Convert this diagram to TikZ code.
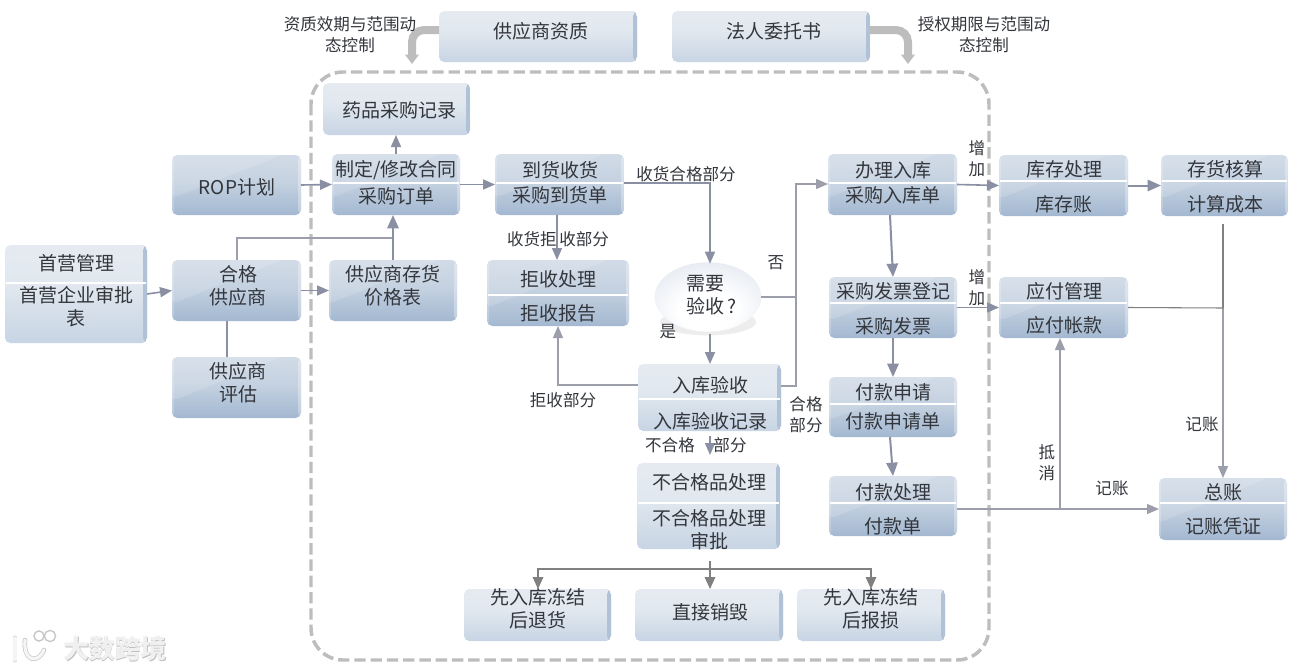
\documentclass[tikz,border=0pt]{standalone}
\usepackage{fontspec}
\setmainfont{Noto Sans CJK SC}
\usetikzlibrary{arrows.meta,shapes.geometric,calc}
\definecolor{arrowc}{HTML}{8A8FA3}
\definecolor{linec}{HTML}{9C9FAB}
\definecolor{grayc}{HTML}{808080}
\definecolor{dashc}{HTML}{BDBDBD}
\definecolor{txtc}{HTML}{33363C}
\definecolor{barc}{HTML}{B1C2D7}
\definecolor{boxedge}{HTML}{BBCADC}
\definecolor{boxbot}{HTML}{A3B8D1}
\definecolor{boxmid}{HTML}{B4C5D9}
\definecolor{boxmid2}{HTML}{C4D1E0}
\definecolor{boxtop}{HTML}{DDE4ED}
\definecolor{softtop}{HTML}{E9EDF3}
\definecolor{softmid}{HTML}{E1E8EF}
\definecolor{softlow}{HTML}{C3D1E2}
\definecolor{softbot}{HTML}{DDE5EE}
\definecolor{softband}{HTML}{C3CFDF}
\pgfdeclareverticalshading{boxshade}{100bp}{
 color(0bp)=(boxedge);
 color(6bp)=(boxbot);
 color(25bp)=(boxbot);
 color(52bp)=(boxmid2);
 color(94bp)=(boxtop);
 color(100bp)=(boxmid)}
\pgfdeclareverticalshading{softshade}{100bp}{
 color(0bp)=(softbot);
 color(5bp)=(softbot);
 color(20bp)=(softlow);
 color(55bp)=(softmid);
 color(93bp)=(softtop);
 color(97bp)=(softband);
 color(100bp)=(softband)}
\pgfdeclareradialshading{ballshade}{\pgfpoint{0bp}{-14bp}}{
 color(0bp)=(white);
 color(14bp)=(white);
 color(30bp)=(softtop);
 color(46bp)=(boxbot);
 color(50bp)=(boxbot)}
\tikzset{
 px/.style={x=.75pt,y=-.75pt},
 boxst/.style={rectangle,rounded corners=4pt,shading=boxshade,draw=none,inner sep=0pt,outer sep=0pt,
  path picture={
   \fill[white,opacity=.14] ($(path picture bounding box.north west)!.72!(path picture bounding box.south west)$) -- ($(path picture bounding box.north west)!.85!(path picture bounding box.north east)$) -- (path picture bounding box.north west) -- cycle;
   \fill[white,opacity=.3] ([xshift=-2.2pt]path picture bounding box.north east) rectangle (path picture bounding box.south east);
   \fill[white,opacity=.2] ([xshift=1.6pt]path picture bounding box.north west) rectangle (path picture bounding box.south west);}},
 softbox/.style={rectangle,rounded corners=4pt,shading=softshade,draw=none,inner sep=0pt,outer sep=0pt,
  path picture={
   \fill[barc] ([xshift=-3pt]path picture bounding box.north east) rectangle (path picture bounding box.south east);}},
 txt/.style={font=\fontsize{14.25}{17.25}\selectfont,text=txtc,align=center,inner sep=0pt,outer sep=0pt},
 lab/.style={font=\fontsize{12.4}{15.5}\selectfont,text=txtc,align=center,inner sep=0pt,outer sep=0pt},
 divline/.style={draw=white,line width=1.1pt},
 arr/.style={draw=arrowc,line width=1.5pt,-{Triangle[length=10pt,width=8.5pt]}},
 arrl/.style={draw=arrowc,line width=1.2pt,-{Triangle[length=9pt,width=7.5pt]}},
 grayarr/.style={draw=grayc,line width=.8pt,-{Triangle[length=9pt,width=8pt]}},
 thin line/.style={draw=linec,line width=1pt},
 thinarr/.style={draw=linec,line width=1pt,-{Triangle[length=9pt,width=7.5pt]}},
 thick line/.style={draw=arrowc,line width=1.5pt},
 bigarr/.style={draw=dashc,line width=6pt,rounded corners=9pt,-{Triangle[length=7pt,width=10pt]}},
 wm/.style={font=\fontsize{19.5}{22}\selectfont\bfseries,inner sep=0pt}
}
% [style] name x1 y1 x2 y2 text textx texty
\newcommand\bxa[9][boxst]{%
 \pgfmathsetmacro\bw{(#5-#3)*.75}\pgfmathsetmacro\bh{(#6-#4)*.75}%
 \node[#1,minimum width=\bw pt,minimum height=\bh pt] (#2) at ({(#3+#5)/2},{(#4+#6)/2}) {};%
 \node[txt] (#2-t) at (#8,#9) {#7};}
% [style] name x1 y1 x2 y2 then divy top topy bottom bottomy
\newcommand\bxb[6][boxst]{%
 \pgfmathsetmacro\bw{(#5-#3)*.75}\pgfmathsetmacro\bh{(#6-#4)*.75}%
 \node[#1,minimum width=\bw pt,minimum height=\bh pt] (#2) at ({(#3+#5)/2},{(#4+#6)/2}) {};%
 \xdef\curname{#2}\xdef\curx{\the\numexpr(#3+#5)/2\relax}\xdef\curl{#3}\xdef\curr{#5}\bxbrest}
\newcommand\bxbrest[5]{%
 \draw[divline] (\curl+1,#1) -- (\curr-1,#1);%
 \node[txt] (\curname-t) at (\curx,#3) {#2};%
 \node[txt] (\curname-b) at (\curx,#5) {#4};}
\begin{document}
\begin{tikzpicture}[px]
\fill[white] (0,0) rectangle (1297,671);
\useasboundingbox (0,0) rectangle (1297,671);

% dashed frame
\draw[dashc,line width=2.6pt,dash pattern=on 8.5pt off 3.7pt,rounded corners=24pt] (311,72) rectangle (989,660);

% boxes
\bxa[softbox]{zz}{439}{11}{637}{62}{供应商资质}{541}{31}
\bxa[softbox]{fr}{672}{11}{870}{62}{法人委托书}{774}{31}
\bxa[softbox]{yp}{323}{83}{470}{135}{药品采购记录}{399}{110}
\bxa{rop}{172}{155}{301}{215}{ROP计划}{237}{187}
\bxb[softbox]{sy}{5}{245}{147}{343}{283}{首营管理}{263}{首营企业审批\\表}{307}
\bxa{hg}{172}{260}{301}{321}{合格\\供应商}{238}{286}
\bxa{pg}{172}{357}{301}{418}{供应商\\评估}{238}{383}
\bxa{jg}{329}{260}{457}{321}{供应商存货\\价格表}{393}{286}
\bxb{ht}{332}{154}{460}{215}{183}{制定/修改合同}{170}{采购订单}{196}
\bxb{dh}{495}{154}{624}{215}{183}{到货收货}{170}{采购到货单}{195}
\bxb{js}{487}{260}{629}{326}{295}{拒收处理}{279}{拒收报告}{313}
\fill[gray!14] (708,322) ellipse (36pt and 10pt);
\node[ellipse,shading=ballshade,minimum width=80pt,minimum height=52pt,inner sep=0pt,outer sep=0pt,draw=none] (xy) at (708,297) {};
\node[txt,anchor=west,align=left] (xy-t) at (686,295) {需要\\验收\,?};
\bxb[softbox]{rk}{638}{364}{781}{431}{399}{入库验收}{385}{入库验收记录}{421}
\bxb[softbox]{bh}{637}{463}{780}{549}{503}{不合格品处理}{482}{不合格品处理\\审批}{530}
\bxa[softbox]{th}{464}{589}{611}{641}{先入库冻结\\后退货}{538}{609}
\bxa[softbox]{xh}{635}{589}{783}{641}{直接销毁}{710}{612}
\bxa[softbox]{bs}{797}{589}{945}{641}{先入库冻结\\后报损}{871}{609}
\bxb{bl}{828}{154}{957}{215}{183}{办理入库}{170}{采购入库单}{195}
\bxb{fp}{829}{277}{957}{338}{303}{采购发票登记}{291}{采购发票}{326}
\bxb{sq}{829}{377}{957}{437}{404}{付款申请}{392}{付款申请单}{421}
\bxb{fk}{829}{476}{957}{536}{503}{付款处理}{492}{付款单}{526}
\bxb{kc}{999}{155}{1128}{216}{181}{库存处理}{169}{库存账}{204}
\bxb{ch}{1161}{155}{1288}{216}{181}{存货核算}{169}{计算成本}{204}
\bxb{yf}{999}{277}{1128}{338}{303}{应付管理}{291}{应付帐款}{325}
\bxb{zb}{1159}{478}{1287}{540}{503}{总账}{492}{记账凭证}{526}

% helper coordinates
\coordinate (x237) at (237,0);
\coordinate (x227) at (227,0);
\coordinate (x393) at (393,0);
\coordinate (x396) at (396,0);
\coordinate (x557) at (557,0);
\coordinate (x710) at (710,0);
\coordinate (x890) at (890,0);
\coordinate (x893) at (893,0);
\coordinate (x538) at (538,0);
\coordinate (x871) at (871,0);
\coordinate (x1060) at (1060,0);
\coordinate (x1223) at (1223,0);
\coordinate (j238) at (393,238);
\coordinate (j184) at (796,184);
\coordinate (j297) at (796,297);
\coordinate (j386) at (796,386);
\coordinate (j183) at (710,183);
\coordinate (j385) at (558,385);
\coordinate (j569) at (710,569);
\coordinate (j508) at (1060,509);
\coordinate (j308) at (1223,308);
\coordinate (zj) at (412,30);
\coordinate (zend) at (412,64);
\coordinate (fj) at (908,30);
\coordinate (fend) at (908,64);

% thick curved arrows
\draw[bigarr] (zz.west |- zj) -- (zj) -- (zend);
\draw[bigarr] (fr.east |- fj) -- (fj) -- (fend);

% left connectors
\draw[arrl] (sy.east) -- (hg.west);
\draw[arrl] (rop.east) -- (ht.west);
\draw[arrl] (hg.east) -- (jg.west);
\draw[thick line] (pg.north -| x227) -- (hg.south -| x227);
\draw[thin line] (hg.north -| x237) |- (j238);
\draw[arr] (jg.north -| x393) -- (ht.south -| x393);
\draw[arrl] (ht.north -| x396) -- (yp.south -| x396);
\draw[arrl] (ht.east) -- (dh.west);

% middle connectors
\draw[arrl] (dh.south -| x557) -- (js.north -| x557);
\draw[thinarr,draw=arrowc] (dh.east |- j183) -- (j183) -- ([yshift=-1pt]xy.north -| x710);
\draw[arrl,shorten <=2pt] (xy.south -| x710) -- (rk.north -| x710);
\draw[thin line] (xy.east) -- (j297);
\draw[thinarr] (rk.east |- j386) -- (j386) -- (j184) -- (bl.west |- j184);
\draw[thinarr] (rk.west |- j385) -- (j385) -- (js.south -| j385);
\draw[arrl,shorten <=4pt,shorten >=6pt] (rk.south -| x710) -- (bh.north -| x710);
\draw[grayc,line width=1pt,shorten <=9pt] (bh.south -| x710) -- (j569);
\draw[grayarr] (j569) -| (th.north -| x538);
\draw[grayarr] (j569) -| (bs.north -| x871);
\draw[grayarr] (j569) -- (xh.north -| x710);

% right connectors
\draw[arr] (bl.south -| x890) -- (fp.north -| x893);
\draw[arr] (fp.south -| x893) -- (sq.north -| x893);
\draw[arr] (sq.south -| x890) -- (fk.north -| x893);
\draw[arrl] (bl.east) -- (kc.west);
\draw[arr] (kc.east) -- (ch.west);
\draw[arrl] (fp.east) -- (yf.west);
\draw[grayc,line width=.8pt,shorten <=6pt] (ch.south -| x1223) -- (j308);
\draw[thinarr,line width=1.2pt] (j308) -- (zb.north -| x1223);
\draw[grayc,line width=.8pt] (yf.east) -- (j308);
\draw[thinarr] (fk.east |- j508) -- (zb.west |- j508);
\draw[thinarr] (j508) -- (yf.south -| x1060);

% labels
\node[lab] (l1) at (350,35) {资质效期与范围动\\态控制};
\node[lab] (l2) at (984,35) {授权期限与范围动\\态控制};
\node[lab] (l3) at (686,174) {收货合格部分};
\node[lab] (l4) at (558,239) {收货拒\,收部分};
\node[lab] (l5) at (776,263) {否};
\node[lab] (l6) at (668,332) {是};
\node[lab] (l7) at (563,400) {拒收部分};
\node[lab] (l8) at (806,415) {合格\\部分};
\node[lab] (l9) at (670,445) {不合格};
\node[lab] (l10) at (730,445) {部分};
\node[lab] (l11) at (977,159) {增\\加};
\node[lab] (l12) at (977,288) {增\\加};
\node[lab] (l13) at (1202,424) {记账};
\node[lab] (l14) at (1047,463) {抵\\消};
\node[lab] (l15) at (1112,488) {记账};

% watermark
\node[wm,text=gray!50] (wm2) at (116,650) {大数跨境};
\node[wm,text=gray!12] (wm1) at (115,649) {大数跨境};
\draw[gray!45,line width=3.6pt,line cap=round] (15,638) -- (15,660);
\draw[gray!8,line width=2.6pt,line cap=round] (15,638) -- (15,660);
\draw[gray!45,line width=3.4pt,line cap=round] (25,640) .. controls (23,662) and (38,664) .. (44,650);
\draw[gray!8,line width=2.4pt,line cap=round] (25,640) .. controls (23,662) and (38,664) .. (44,650);
\draw[gray!45,line width=1pt] (39,636) circle (3.8pt);
\draw[gray!45,line width=1pt] (50,636) circle (4.2pt);
\end{tikzpicture}
\end{document}
